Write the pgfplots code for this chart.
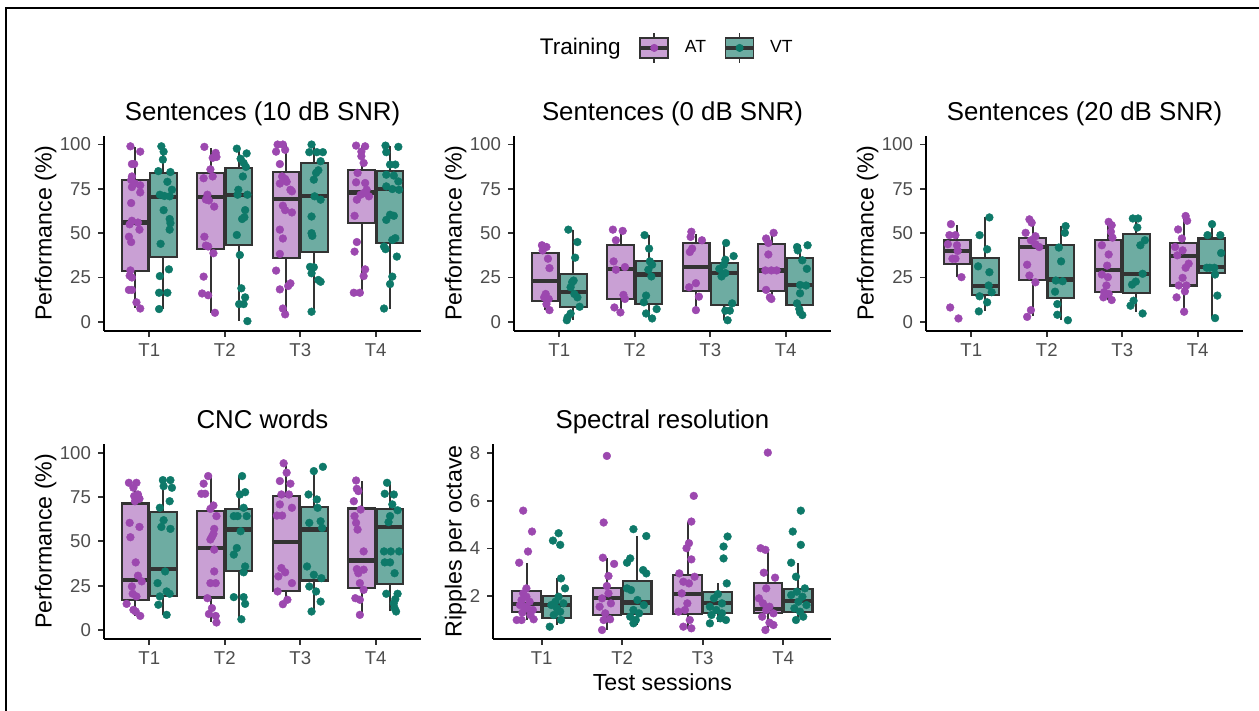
\documentclass[border=0pt]{standalone}
\usepackage{pgfplots}
\pgfplotsset{compat=1.18}
\usepgfplotslibrary{statistics}
\usepackage{fontspec}
\setmainfont{Liberation Sans}
\definecolor{atfill}{RGB}{201,160,212}
\definecolor{vtfill}{RGB}{110,172,162}
\definecolor{atpt}{RGB}{156,72,175}
\definecolor{vtpt}{RGB}{14,121,105}
\definecolor{boxline}{RGB}{51,51,51}
\definecolor{ticklab}{RGB}{77,77,77}
\pgfplotsset{
  base/.style={
    scale only axis, anchor=south west, height=97.5pt,
    axis x line*=bottom, axis y line*=left,
    axis line style={line width=1pt, black, -},
    xmin=0.4, xmax=4.6, xtick={1,2,3,4}, xticklabels={T1,T2,T3,T4},
    tick align=outside, major tick length=3pt,
    tick style={line width=0.9pt, color=boxline},
    tick label style={font=\fontsize{9.3}{11}\selectfont, text=ticklab},
    /pgf/number format/assume math mode=true,
    title style={font=\fontsize{12.9}{15}\selectfont, at={(axis description cs:0.5,1)}, anchor=base, yshift=1.8pt},
    label style={font=\fontsize{11.6}{14}\selectfont},
    boxplot/draw direction=y,
    boxplot/box extend=0.355,
    boxplot/whisker extend=0,
    boxplot/every box/.style={line width=1.05pt},
    boxplot/every whisker/.style={line width=1.05pt},
    boxplot/every median/.style={line width=2.1pt},
  },
  pct/.style={base, width=158.5pt, ymin=-5, ymax=105, ytick={0,25,50,75,100},
    ylabel={Performance (\%)}, ylabel style={at={(axis description cs:-0.165,0.5)}, anchor=base}},
  atp/.style={only marks, mark=*, mark size=1.95pt, color=atpt, mark options={solid, fill=atpt, draw=atpt, line width=0.2pt}},
  vtp/.style={only marks, mark=*, mark size=1.95pt, color=vtpt, mark options={solid, fill=vtpt, draw=vtpt, line width=0.2pt}},
}
\newcommand{\bx}[7]{\addplot[forget plot, boxplot prepared={draw position=#2, lower whisker=#3, lower quartile=#4, median=#5, upper quartile=#6, upper whisker=#7}, draw=boxline, fill=#1, line width=1.05pt] coordinates {};}
\begin{document}
\begin{tikzpicture}
\path[use as bounding box] (0pt,0pt) rectangle (629.5pt,355.5pt);
\draw[line width=1pt] (3pt,0pt) -- (3pt,351.5pt) -- (629.5pt,351.5pt);

% Panel 1
\begin{axis}[pct, at={(52pt,190.15pt)}, title={Sentences (10 dB SNR)}]
\bx{atfill}{0.8125}{8}{28.6}{56}{80.2}{98.5}
\bx{vtfill}{1.1875}{7.2}{36.8}{70.2}{84}{99}
\bx{atfill}{1.8125}{5.1}{41.1}{70.2}{84}{98}
\bx{vtfill}{2.1875}{0.6}{43.4}{71.7}{86.8}{97.7}
\bx{atfill}{2.8125}{4.2}{35.8}{69.2}{84.3}{100}
\bx{vtfill}{3.1875}{5.7}{39.2}{70.8}{89.6}{100}
\bx{atfill}{3.8125}{16.4}{55.7}{73}{85.5}{99}
\bx{vtfill}{4.1875}{7.5}{44.3}{74.9}{84.9}{99}
\addplot[atp] coordinates {(0.75,99)(0.88,96)(0.77,89)(0.80,89)(0.77,82)(0.76,80)(0.81,78)(0.88,77)(0.77,76)(0.88,73)(0.76,67)(0.85,56)(0.77,57)(0.74,55)(0.87,52)(0.73,48)(0.76,45)(0.75,29)(0.74,26)(0.77,25)(0.73,18)(0.77,18)(0.83,11)(0.88,7.5)
(1.73,98.7)(1.88,95.3)(1.84,92.5)(1.81,86)(1.84,82)(1.72,81)(1.77,71.7)(1.75,69)(1.79,68.5)(1.86,65)(1.73,48)(1.75,43)(1.78,42.5)(1.85,38.7)(1.72,25.5)(1.70,16)(1.78,15)(1.87,5.1)(1.89,93)
(2.70,100)(2.77,100)(2.80,97)(2.68,96)(2.73,89)(2.76,82)(2.80,80.6)(2.82,79)(2.73,78)(2.87,74.5)(2.89,73.6)(2.77,65.5)(2.80,63)(2.89,61.7)(2.73,52)(2.77,47)(2.73,38.3)(2.68,28.9)(2.87,21.7)(2.84,20.2)(2.73,18.3)(2.77,7.5)(2.80,4.2)
(3.74,99.4)(3.86,99)(3.81,96)(3.81,93.4)(3.84,89.6)(3.76,84)(3.74,78.7)(3.86,78.3)(3.88,74.5)(3.84,72.6)(3.80,71.7)(3.91,70.8)(3.75,68.9)(3.72,59.8)(3.75,45)(3.72,39.6)(3.86,29.6)(3.84,25.8)(3.71,16.4)(3.79,16.4)};
\addplot[vtp] coordinates {(1.16,99)(1.19,96)(1.18,91.5)(1.12,85)(1.28,84.5)(1.24,79)(1.14,71.7)(1.20,71)(1.30,74.5)(1.27,70.8)(1.19,63)(1.27,58)(1.28,55.7)(1.27,52)(1.15,44)(1.26,29.6)(1.14,25.8)(1.13,16.4)(1.24,16.4)(1.13,7.2)
(2.16,97.7)(2.29,95)(2.21,92)(2.25,89.6)(2.28,87.4)(2.24,82)(2.17,71.7)(2.30,71.7)(2.18,74.5)(2.27,63)(2.26,59)(2.23,58)(2.16,49)(2.20,37.7)(2.22,18.9)(2.27,13.8)(2.19,10)(2.25,10)(2.30,0.4)
(3.15,100)(3.30,95.7)(3.12,95.7)(3.22,95.7)(3.27,90.6)(3.24,85.5)(3.21,84)(3.18,80.2)(3.19,70.8)(3.27,68.9)(3.15,59.4)(3.15,50)(3.16,48.5)(3.13,31)(3.18,30.8)(3.15,27.4)(3.24,23.6)(3.27,22.6)(3.15,5.7)
(4.13,99.4)(4.30,98.7)(4.14,95.7)(4.19,88.7)(4.26,88.7)(4.14,83)(4.24,82.5)(4.30,79.2)(4.14,76.4)(4.22,74.9)(4.31,74.5)(4.19,60.4)(4.24,59.8)(4.14,57.5)(4.26,47.2)(4.22,46.2)(4.11,42.5)(4.13,41)(4.28,36.8)(4.22,25.5)(4.19,21.3)(4.11,7.5)};
\end{axis}

% Panel 2
\begin{axis}[pct, at={(257pt,190.15pt)}, title={Sentences (0 dB SNR)},
  legend style={at={(axis description cs:0.463,1.45)}, anchor=center, draw=none, fill=none,
    font=\fontsize{8.8}{10}\selectfont,
    /tikz/every odd column/.append style={column sep=5.5pt},
    /tikz/every even column/.append style={column sep=7pt}},
  legend columns=3]
\addlegendimage{empty legend}
\addlegendentry{\fontsize{11.3}{13}\selectfont Training}
\addlegendimage{legend image code/.code={
  \draw[line width=0.8pt, boxline] (7pt,-7.5pt) -- (7pt,7.5pt);
  \draw[line width=0.8pt, draw=boxline, fill=atfill] (0pt,-5pt) rectangle (14pt,5pt);
  \draw[line width=1.6pt, boxline] (0pt,0pt) -- (14pt,0pt);
  \fill[atpt] (7pt,0pt) circle (1.8pt);}}
\addlegendentry{AT}
\addlegendimage{legend image code/.code={
  \draw[line width=0.8pt, boxline] (7pt,-7.5pt) -- (7pt,7.5pt);
  \draw[line width=0.8pt, draw=boxline, fill=vtfill] (0pt,-5pt) rectangle (14pt,5pt);
  \draw[line width=1.6pt, boxline] (0pt,0pt) -- (14pt,0pt);
  \fill[vtpt] (7pt,0pt) circle (1.8pt);}}
\addlegendentry{VT}
\bx{atfill}{0.8125}{6.6}{11.9}{22.9}{38.8}{43.2}
\bx{vtfill}{1.1875}{0.9}{8.5}{16.7}{27.1}{52}
\bx{atfill}{1.8125}{5.3}{12.9}{29.9}{43.2}{52}
\bx{vtfill}{2.1875}{1.9}{10}{26.7}{34.1}{48.9}
\bx{atfill}{2.8125}{6.6}{17.2}{30.9}{44.7}{49.5}
\bx{vtfill}{3.1875}{0.9}{9.7}{27.5}{33.3}{44.5}
\bx{atfill}{3.8125}{12.9}{17.6}{29}{43.8}{50.2}
\bx{vtfill}{4.1875}{3.8}{9.5}{20.8}{36.2}{43.2}
\addplot[atp, forget plot] coordinates {(0.77,43.2)(0.83,42.2)(0.78,40.3)(0.85,35.6)(0.87,30.3)(0.82,15.7)(0.80,13.8)(0.86,12.9)(0.83,10)(0.87,6.6)
(1.71,52)(1.84,51.3)(1.75,46)(1.72,34.1)(1.75,29.4)(1.87,30.9)(1.85,15.2)(1.87,12.9)(1.73,8.1)(1.81,5.3)
(2.75,50.8)(2.74,47.9)(2.89,46)(2.76,41.3)(2.73,39.4)(2.81,21.8)(2.72,19.5)(2.85,14.2)(2.81,6.6)
(3.84,50.2)(3.74,47)(3.77,44.5)(3.77,38)(3.73,29)(3.81,29)(3.88,29)(3.74,18)(3.79,13.8)(3.81,12.9)};
\addplot[vtp, forget plot] coordinates {(1.12,52)(1.24,45)(1.21,36.2)(1.19,23.3)(1.17,22.3)(1.15,19.5)(1.20,15.7)(1.24,13.8)(1.27,8.5)(1.15,4.7)(1.11,2.5)(1.10,0.9)
(2.13,48.9)(2.19,41.3)(2.20,34.1)(2.23,32.2)(2.18,29.4)(2.22,25.6)(2.15,14.8)(2.12,11)(2.15,4.7)(2.23,1.9)(2.29,7.2)
(3.21,44.5)(3.31,37.1)(3.20,35)(3.18,32.2)(3.12,29.9)(3.20,27.5)(3.17,27)(3.15,25.6)(3.29,10.4)(3.20,6.3)(3.26,6.3)(3.23,0.9)
(4.29,43.2)(4.15,42.2)(4.16,40.3)(4.22,34.7)(4.28,29.9)(4.19,20.8)(4.27,20.5)(4.19,16.1)(4.15,10.4)(4.18,7.2)(4.19,5.3)(4.22,3.8)};
\end{axis}

% Panel 3
\begin{axis}[pct, at={(463pt,190.15pt)}, title={Sentences (20 dB SNR)}]
\bx{atfill}{0.8125}{25.2}{32.6}{40}{46}{54.5}
\bx{vtfill}{1.1875}{6.3}{15}{20.1}{36.2}{58.9}
\bx{atfill}{1.8125}{3.4}{23.7}{42.2}{47.5}{57.4}
\bx{vtfill}{2.1875}{0.9}{13.3}{23.9}{43.2}{54}
\bx{atfill}{2.8125}{12.3}{17}{29.4}{46}{56.4}
\bx{vtfill}{3.1875}{5.3}{16.1}{27.1}{49.4}{58.3}
\bx{atfill}{3.8125}{5.7}{20.5}{37.1}{44.5}{59.7}
\bx{vtfill}{4.1875}{2.1}{27.7}{30.9}{47}{55.1}
\addplot[atp] coordinates {(0.73,55.1)(0.71,48.9)(0.79,48.9)(0.69,43.8)(0.81,43.2)(0.82,40)(0.79,35.6)(0.75,35.6)(0.87,25.2)(0.72,8.1)(0.83,1.9)
(1.77,57.8)(1.80,55.9)(1.72,50.2)(1.85,48.3)(1.79,46)(1.90,42.2)(1.85,43.8)(1.74,32.2)(1.77,26.1)(1.85,22.3)(1.79,6.6)(1.74,2.8)
(2.82,56.4)(2.86,54.5)(2.85,50.8)(2.87,47.5)(2.73,43.2)(2.82,38)(2.80,31.7)(2.73,26.7)(2.81,25.2)(2.79,20.5)(2.76,16.7)(2.82,15.7)(2.75,13.8)(2.86,12.3)
(3.84,59.7)(3.86,57)(3.74,52.1)(3.79,47)(3.70,42.2)(3.80,40.3)(3.73,37.5)(3.88,32.8)(3.84,30.5)(3.80,24.8)(3.75,20.5)(3.85,20.5)(3.83,17.2)(3.72,13.8)(3.82,5.7)};
\addplot[vtp] coordinates {(1.24,58.9)(1.11,48.9)(1.21,40.9)(1.09,31.3)(1.24,28)(1.23,20.5)(1.27,16.7)(1.11,14.4)(1.21,11)(1.10,5.9)
(2.25,54)(2.24,50.2)(2.16,41.9)(2.19,34.1)(2.12,23.3)(2.21,22.9)(2.11,17)(2.14,10)(2.14,4)(2.28,0.9)
(3.14,58.3)(3.21,58.3)(3.20,53.2)(3.30,46)(3.24,43.2)(3.27,27.1)(3.18,22.7)(3.13,21)(3.15,11.9)(3.11,9.1)(3.27,4.7)
(4.19,55.1)(4.13,48.9)(4.30,48.9)(4.31,38.8)(4.16,30.5)(4.22,30.5)(4.12,30.5)(4.23,26.7)(4.26,14.8)(4.23,2.1)};
\end{axis}

% Panel 4
\begin{axis}[pct, at={(52pt,36.1pt)}, title={CNC words}]
\bx{atfill}{0.8125}{7.9}{17}{28.3}{71.3}{83.4}
\bx{vtfill}{1.1875}{8.5}{19.2}{34.3}{66.4}{84.5}
\bx{atfill}{1.8125}{4.7}{18.3}{46.2}{67}{87.2}
\bx{vtfill}{2.1875}{6}{33}{56.6}{68.3}{86.8}
\bx{atfill}{2.8125}{15.1}{22}{49.4}{75.8}{93.4}
\bx{vtfill}{3.1875}{10.4}{27.9}{56.6}{69.4}{90.6}
\bx{atfill}{3.8125}{7.9}{23.6}{39.2}{68.5}{84}
\bx{vtfill}{4.1875}{10.4}{26}{58.1}{68.3}{83.4}
\addplot[atp] coordinates {(0.73,83)(0.83,83)(0.79,80.2)(0.85,76.4)(0.80,75.5)(0.87,74)(0.81,72.6)(0.74,60.4)(0.87,58.1)(0.75,52.3)(0.82,38.1)(0.85,30.6)(0.90,27.4)(0.77,24.5)(0.78,20.4)(0.83,18.9)(0.70,14.7)(0.79,11.3)(0.82,10.4)(0.88,7.9)
(1.78,86.8)(1.72,82.5)(1.74,76.8)(1.69,76.8)(1.85,70.2)(1.81,68.3)(1.89,64.2)(1.86,57)(1.85,54.2)(1.83,52.5)(1.81,51)(1.86,45.3)(1.86,33)(1.81,26.4)(1.88,26.4)(1.77,17.9)(1.83,12.3)(1.79,9)(1.88,7.9)(1.89,4.2)
(2.78,94)(2.82,88.7)(2.73,84)(2.87,82.5)(2.75,76.4)(2.85,76.4)(2.73,70.8)(2.76,64.5)(2.69,64.5)(2.89,68.9)(2.75,34.9)(2.80,32.5)(2.71,30.2)(2.89,26.4)(2.70,21.7)(2.83,17)(2.77,14.5)
(3.74,84.3)(3.75,79.6)(3.77,78.3)(3.71,72.6)(3.80,67.9)(3.72,64.2)(3.74,60.4)(3.76,56.6)(3.84,44.3)(3.75,34.3)(3.84,34)(3.77,32)(3.79,26.4)(3.84,22.6)(3.73,17.9)(3.79,17)(3.79,8.5)};
\addplot[vtp] coordinates {(1.18,84.5)(1.28,84.5)(1.19,81.1)(1.30,80.2)(1.27,72.6)(1.14,68.9)(1.19,61.9)(1.16,58.1)(1.28,57)(1.21,33)(1.11,26.4)(1.23,21.7)(1.27,20.4)(1.14,18.9)(1.12,14.2)(1.23,8.5)
(2.23,86.8)(2.27,77.7)(2.20,76.4)(2.12,64.2)(2.17,64.2)(2.29,64.2)(2.25,68.9)(2.21,55.7)(2.16,46.2)(2.12,42.5)(2.27,35.8)(2.25,32.5)(2.12,18.5)(2.25,18.5)(2.27,14.7)(2.22,6)
(3.30,92)(3.18,89.6)(3.11,76.4)(3.22,73.6)(3.23,68.9)(3.27,61.3)(3.12,60.4)(3.29,57.5)(3.09,35.8)(3.18,31.1)(3.28,29.2)(3.12,24.5)(3.21,21.7)(3.27,16)(3.15,10.4)
(4.15,83)(4.12,76.8)(4.24,76.4)(4.22,70.8)(4.29,67.5)(4.19,64.2)(4.17,60.8)(4.11,44.3)(4.20,44.3)(4.31,44.3)(4.12,38.1)(4.19,38.1)(4.25,32)(4.14,20.4)(4.29,20.4)(4.26,17.4)(4.24,15)(4.27,10.4)(4.25,12.3)};
\end{axis}

% Panel 5
\begin{axis}[base, width=169pt, at={(246.7pt,36.1pt)}, title={Spectral resolution},
  ymin=0.2, ymax=8.4, ytick={2,4,6,8},
  ylabel={Ripples per octave}, ylabel style={at={(axis description cs:-0.094,0.5)}, anchor=base},
  xlabel={Test sessions}, xlabel style={at={(axis description cs:0.5,-0.263)}, anchor=base}]
\bx{atfill}{0.8125}{0.99}{1.31}{1.66}{2.21}{3.37}
\bx{vtfill}{1.1875}{0.78}{1.09}{1.62}{2.0}{2.74}
\bx{atfill}{1.8125}{0.57}{1.2}{1.93}{2.32}{3.58}
\bx{vtfill}{2.1875}{0.78}{1.24}{1.73}{2.63}{4.52}
\bx{atfill}{2.8125}{0.6}{1.24}{2.08}{2.88}{5.13}
\bx{vtfill}{3.1875}{0.92}{1.27}{1.72}{2.18}{2.53}
\bx{atfill}{3.8125}{0.57}{1.27}{1.44}{2.53}{3.96}
\bx{vtfill}{4.1875}{0.99}{1.34}{1.80}{2.29}{3.37}
\addplot[atp] coordinates {(0.77,5.59)(0.88,4.71)(0.83,3.87)(0.72,3.40)(0.81,2.32)(0.77,2.11)(0.81,1.97)(0.75,1.83)(0.85,1.76)(0.73,1.62)(0.79,1.55)(0.82,1.48)(0.89,1.41)(0.76,1.30)(0.86,1.20)(0.69,0.99)(0.75,0.99)(0.90,1.02)
(1.81,7.89)(1.77,5.09)(1.76,3.61)(1.90,3.35)(1.83,2.84)(1.81,2.42)(1.83,2.11)(1.75,1.90)(1.86,1.69)(1.72,1.55)(1.79,1.27)(1.85,1.02)(1.77,0.99)(1.75,0.57)
(2.89,6.21)(2.86,5.13)(2.83,4.22)(2.80,4.01)(2.86,3.54)(2.71,2.95)(2.90,2.81)(2.76,2.60)(2.83,2.53)(2.74,2.11)(2.81,1.69)(2.78,1.41)(2.70,1.34)(2.84,0.99)(2.76,0.71)(2.86,0.64)
(3.81,8.03)(3.72,4.01)(3.78,3.94)(3.76,2.98)(3.90,2.77)(3.79,2.32)(3.70,1.90)(3.75,1.69)(3.83,1.55)(3.79,1.41)(3.88,1.27)(3.74,1.13)(3.83,0.88)(3.88,0.78)(3.78,0.57)};
\addplot[vtp] coordinates {(1.21,4.64)(1.14,4.33)(1.23,4.15)(1.24,2.74)(1.29,2.32)(1.21,1.97)(1.17,1.76)(1.27,1.69)(1.12,1.62)(1.19,1.48)(1.23,1.34)(1.15,1.20)(1.24,0.99)(1.10,0.71)
(2.14,4.81)(2.30,4.52)(2.06,3.40)(2.10,3.58)(2.26,3.09)(2.30,2.95)(2.06,2.32)(2.11,2.25)(2.19,1.83)(2.27,1.62)(2.14,1.41)(2.21,1.27)(2.10,1.13)(2.17,0.99)(2.14,0.85)
(3.31,4.50)(3.26,4.08)(3.26,3.58)(3.30,2.53)(3.19,2.08)(3.14,1.90)(3.24,1.69)(3.09,1.55)(3.17,1.41)(3.24,1.27)(3.11,1.20)(3.22,1.06)(3.29,0.99)(3.09,0.85)
(4.22,5.59)(4.12,4.71)(4.22,4.15)(4.10,3.40)(4.16,2.81)(4.27,2.32)(4.17,2.18)(4.10,2.04)(4.24,1.97)(4.19,1.76)(4.29,1.62)(4.14,1.48)(4.21,1.34)(4.16,0.99)(4.25,1.13)};
\end{axis}
\end{tikzpicture}
\end{document}
